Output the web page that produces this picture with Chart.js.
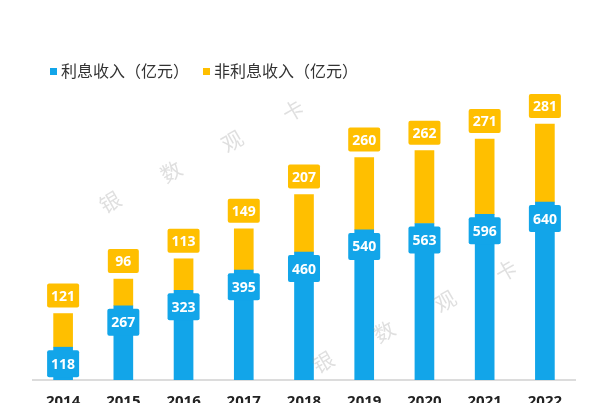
<!DOCTYPE html>
<html>
<head>
<meta charset="utf-8">
<script src="https://cdn.jsdelivr.net/npm/chart.js@4/dist/chart.umd.min.js"></script>
<style>
html,body{margin:0;padding:0;background:#fff;overflow:hidden;width:600px;height:403px;}
canvas{display:block;}
</style>
</head>
<body>
<canvas id="c" width="600" height="420"></canvas>
<script>
const categories = ['2014','2015','2016','2017','2018','2019','2020','2021','2022'];
const interestIncome = [118,267,323,395,460,540,563,596,640];
const nonInterestIncome = [121,96,113,149,207,260,262,271,281];
const seriesNames = ['利息收入（亿元）','非利息收入（亿元）'];
const watermarkChars = ['银','数','观','卡'];

const BLUE = '#12A5E9';
const ORANGE = '#FFBF00';
const CJK = '"Noto Sans CJK SC","Noto Sans",sans-serif';
const NUM = '"Open Sans","DejaVu Sans",sans-serif';

function roundRect(ctx,x,y,w,h,r){
  ctx.beginPath();
  ctx.moveTo(x+r,y);ctx.lineTo(x+w-r,y);ctx.quadraticCurveTo(x+w,y,x+w,y+r);
  ctx.lineTo(x+w,y+h-r);ctx.quadraticCurveTo(x+w,y+h,x+w-r,y+h);
  ctx.lineTo(x+r,y+h);ctx.quadraticCurveTo(x,y+h,x,y+h-r);
  ctx.lineTo(x,y+r);ctx.quadraticCurveTo(x,y,x+r,y);ctx.closePath();
}

const labelPlugin = {
  id:'labels',
  afterDatasetsDraw(chart){
    const ctx = chart.ctx;
    ctx.save();
    ctx.font = 'bold 14px '+NUM;
    ctx.textAlign='center';ctx.textBaseline='middle';
    chart.data.datasets.forEach((ds,di)=>{
      const meta = chart.getDatasetMeta(di);
      meta.data.forEach((el,i)=>{
        const txt = String(ds.data[i]);
        const w = Math.max(31, ctx.measureText(txt).width+8);
        let top,h;
        if(di===0){ top = el.y+3; h = 27; }
        else { h = 24; top = el.y-6-h; }
        ctx.fillStyle = ds.backgroundColor;
        roundRect(ctx, el.x-w/2, top, w, h, 2);
        ctx.fill();
        ctx.fillStyle = '#fff';
        ctx.fillText(txt, el.x, top+h/2+1);
      });
    });
    ctx.restore();
  }
};

const legendPlugin = {
  id:'customLegend',
  afterDraw(chart){
    const ctx = chart.ctx;
    ctx.save();
    ctx.font = '16px '+CJK;
    ctx.textBaseline='middle';ctx.textAlign='left';
    let x = 50; const y = 71;
    chart.data.datasets.forEach((ds,i)=>{
      ctx.fillStyle = ds.backgroundColor;
      ctx.fillRect(x, y-3, 7, 7);
      ctx.fillStyle = '#333';
      ctx.fillText(seriesNames[i], x+11, y);
      x += 11 + ctx.measureText(seriesNames[i]).width + 14;
    });
    // watermark
    ctx.font = '21px '+CJK;
    ctx.fillStyle = 'rgba(150,150,150,0.3)';
    ctx.textAlign='center';
    const starts = [[110,202],[323,362]];
    starts.forEach(([sx,sy])=>{
      watermarkChars.forEach((ch,k)=>{
        ctx.save();
        ctx.translate(sx+k*61, sy-k*30.5);
        ctx.rotate(-30*Math.PI/180);
        ctx.fillText(ch,0,0);
        ctx.restore();
      });
    });
    ctx.restore();
  }
};

new Chart(document.getElementById('c'),{
  type:'bar',
  data:{
    labels:categories,
    datasets:[
      {label:seriesNames[0],data:interestIncome,backgroundColor:BLUE,barThickness:19,borderWidth:0},
      {label:seriesNames[1],data:nonInterestIncome,backgroundColor:ORANGE,barThickness:19,borderWidth:0}
    ]
  },
  options:{
    responsive:false,
    animation:false,
    devicePixelRatio:1,
    layout:{padding:{left:33,right:25,top:102,bottom:10}},
    plugins:{legend:{display:false},tooltip:{enabled:false}},
    scales:{
      x:{
        stacked:true,
        grid:{display:false,drawTicks:false},
        border:{display:true,color:'#dcdcdc',width:2},
        ticks:{color:'#222',font:{family:NUM,size:15,weight:'bold'},padding:13},
        afterFit(s){ s.height = 30; }
      },
      y:{
        stacked:true,display:false,min:0,max:1000
      }
    }
  },
  plugins:[labelPlugin,legendPlugin]
});
</script>
</body>
</html>
